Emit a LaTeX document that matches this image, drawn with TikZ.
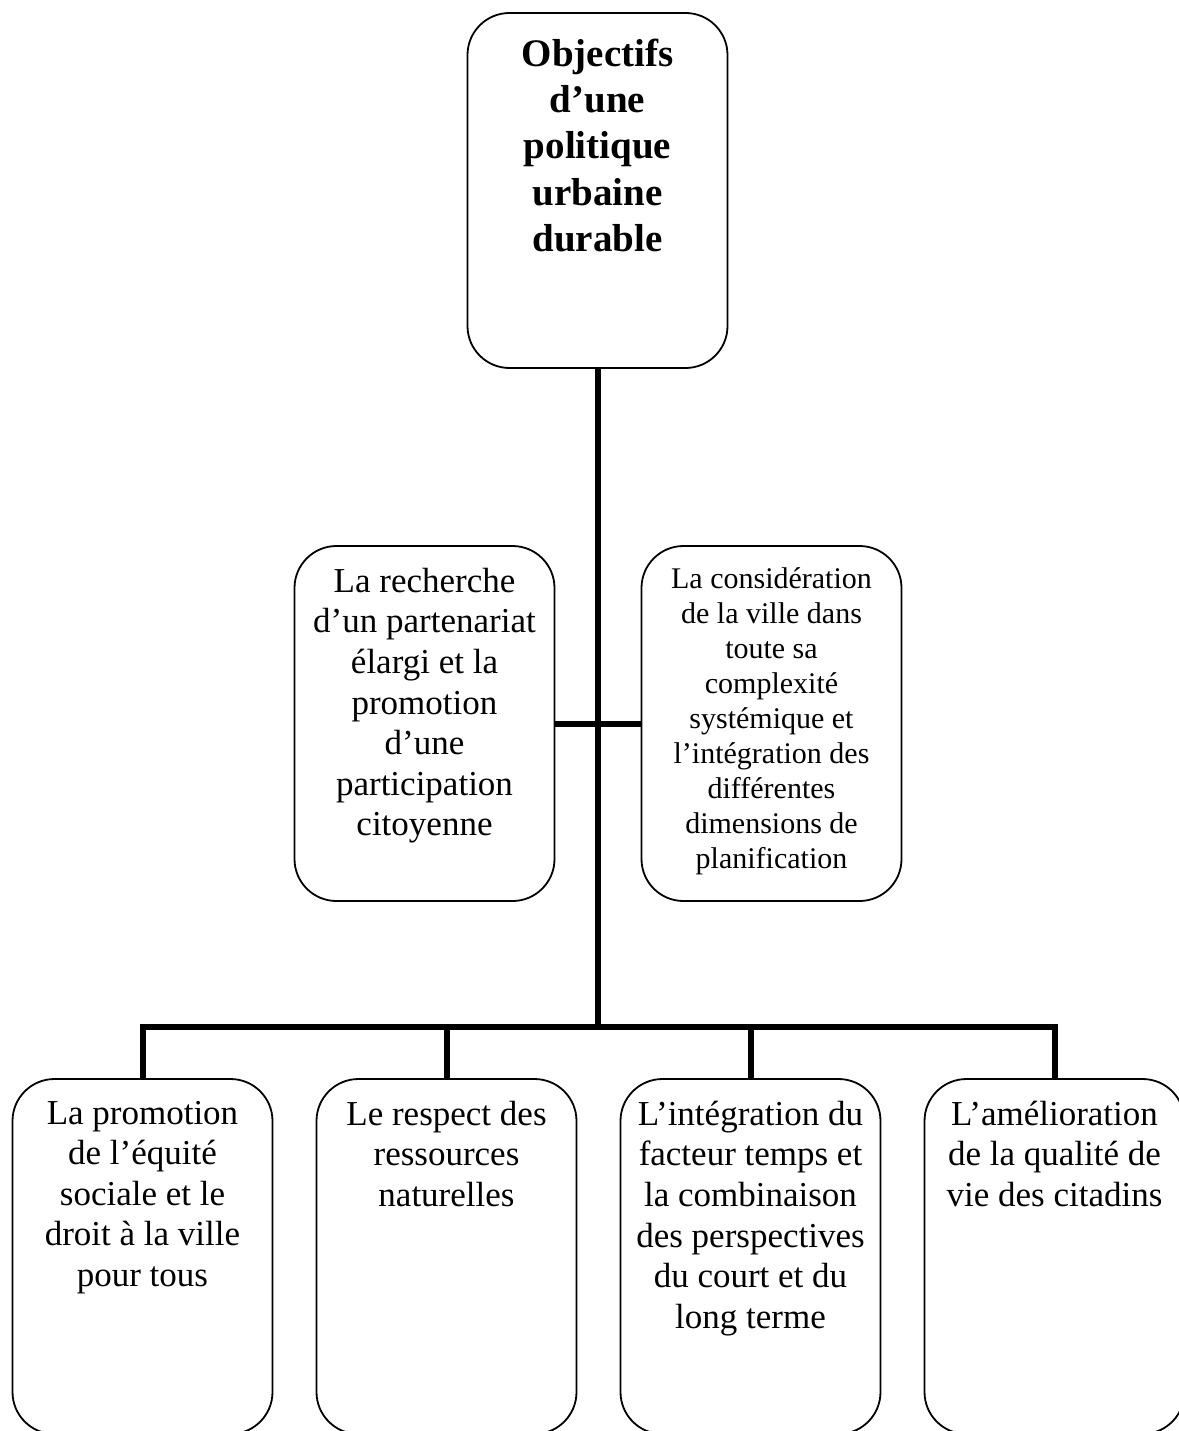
\documentclass[tikz,border=0pt]{standalone}
\usepackage{fontspec}
\setmainfont{Liberation Serif}
\usetikzlibrary{positioning}

\newcommand{\boxtext}[2]{\parbox[c][355pt][t]{256pt}{\centering\vspace*{#1}#2}}

\begin{document}
\begin{tikzpicture}[x=1pt, y=-1pt, node distance=304pt,
    box/.style={draw, line width=1.8pt, rounded corners=42pt, inner sep=0pt,
                minimum width=260pt, minimum height=355pt},
    big/.style={font=\fontsize{35}{40.6}\selectfont},
    small/.style={font=\fontsize{30}{35}\selectfont},
    head/.style={font=\fontsize{39}{46.2}\selectfont\bfseries},
    link/.style={line width=6pt}]
    \useasboundingbox (0,0) rectangle (1178,1431);

    \node[box, head] (obj) at (597.5,190.5)
        {\boxtext{26pt}{Objectifs\\d’une\\politique\\urbaine\\durable}};

    \node[box, big] (part) at (424.5,723.5)
        {\boxtext{22pt}{La recherche\\d’un partenariat\\élargi et la\\promotion\\d’une\\participation\\citoyenne}};
    \node[box, small, right of=part, node distance=347pt] (ville)
        {\boxtext{22pt}{La considération\\de la ville dans\\toute sa\\complexité\\systémique et\\l’intégration des\\différentes\\dimensions de\\planification}};

    \node[box, big] (equite) at (142.5,1256.5)
        {\boxtext{22pt}{La promotion\\de l’équité\\sociale et le\\droit à la ville\\pour tous}};
    \node[box, big, right of=equite] (respect)
        {\boxtext{22pt}{Le respect des\\ressources\\naturelles}};
    \node[box, big, right of=respect] (temps)
        {\boxtext{22pt}{L’intégration du\\facteur temps et\\la combinaison\\des perspectives\\du court et du\\long terme}};
    \node[box, big, right of=temps] (vie)
        {\boxtext{22pt}{L’amélioration\\de la qualité de\\vie des citadins}};

    \coordinate (bar) at (597.5,1027);
    \draw[link] (obj) -- (bar);
    \draw[link] (part) -- (ville);
    \foreach \b in {equite,respect,temps,vie}
        \draw[link] (bar) -| (\b);
\end{tikzpicture}
\end{document}
